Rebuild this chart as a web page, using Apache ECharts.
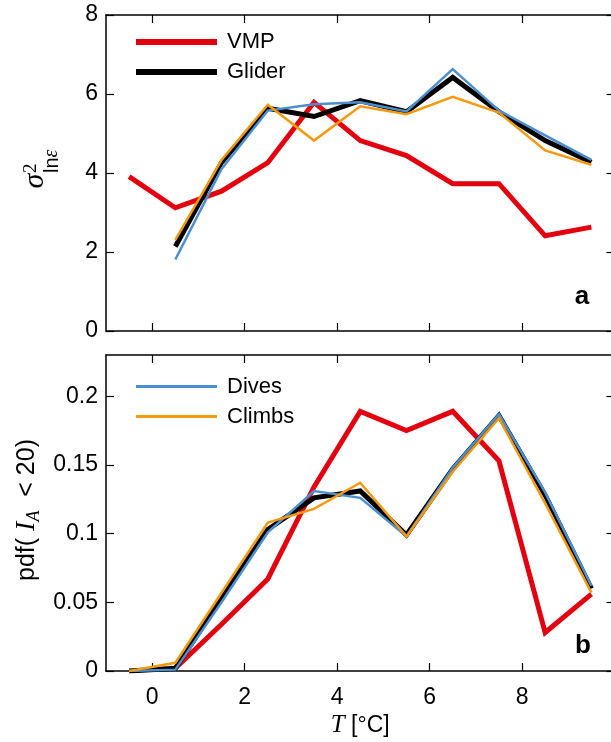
<!DOCTYPE html>
<html>
<head>
<meta charset="utf-8">
<script src="https://cdn.jsdelivr.net/npm/echarts@6/dist/echarts.min.js"></script>
<style>
html,body{margin:0;padding:0;background:#fff;}
#chart{width:611px;height:742px;}
</style>
</head>
<body>
<div id="chart"></div>
<script>
// ---- data ----
const temps = [-0.5, 0.5, 1.5, 2.5, 3.5, 4.5, 5.5, 6.5, 7.5, 8.5, 9.5];
// panel a: variance of ln(epsilon)
const vmpVar    = [3.91, 3.12, 3.54, 4.26, 5.79, 4.82, 4.44, 3.73, 3.73, 2.41, 2.63];
const gliderVar = [null, 2.14, 4.27, 5.64, 5.43, 5.83, 5.55, 6.42, 5.55, 4.82, 4.27];
const divesVar  = [null, 1.81, 4.10, 5.58, 5.74, 5.79, 5.56, 6.63, 5.58, 4.95, 4.33];
const climbsVar = [null, 2.31, 4.33, 5.73, 4.82, 5.69, 5.49, 5.93, 5.53, 4.57, 4.21];
// panel b: pdf(I_A < 20)
const vmpPdf    = [null, 0.002, 0.034, 0.067, 0.134, 0.189, 0.175, 0.189, 0.153, 0.028, 0.056];
const gliderPdf = [0, 0.002, 0.053, 0.103, 0.126, 0.131, 0.099, 0.147, 0.186, 0.128, 0.060];
const divesPdf  = [0, 0.001, 0.050, 0.101, 0.131, 0.126, 0.098, 0.148, 0.187, 0.130, 0.062];
const climbsPdf = [0, 0.006, 0.057, 0.108, 0.118, 0.137, 0.098, 0.145, 0.184, 0.122, 0.057];
// ticks
const xTicks = [0, 2, 4, 6, 8, 10];
const xTickLabels = [0, 2, 4, 6, 8];
const yTicksA = [0, 2, 4, 6, 8];
const yTicksB = [0, 0.05, 0.1, 0.15, 0.2];

const names = ['VMP', 'Glider', 'Dives', 'Climbs'];
const colors = ['#e3000f', '#000000', '#4a8fd0', '#f59a10'];
const widths = [5, 5, 2.5, 2.5];

const SANS = '"Liberation Sans", Arial, sans-serif';
const SERIF = '"Liberation Serif", "DejaVu Serif", serif';

function pairs(arr) {
  const out = [];
  temps.forEach((t, i) => { if (arr[i] !== null) out.push([t, arr[i]]); });
  return out;
}

const chart = echarts.init(document.getElementById('chart'), null, {renderer: 'canvas'});

const axisLine = {show: true, onZero: false, lineStyle: {color: '#000', width: 1.5}};
const tickStyle = {lineStyle: {color: '#000', width: 1.2}};

function xAxisDef(gridIndex, position, showLabel) {
  return {
    type: 'value', gridIndex, position, min: -1, max: 10,
    axisLine,
    splitLine: {show: false},
    axisTick: Object.assign({show: true, inside: true, length: 8, customValues: xTicks}, tickStyle),
    axisLabel: showLabel ? {show: true, customValues: xTickLabels, margin: 15, fontSize: 23, fontFamily: SANS, color: '#000'} : {show: false}
  };
}
function yAxisDef(gridIndex, position, max, ticks, showLabel) {
  return {
    type: 'value', gridIndex, position, min: 0, max,
    axisLine,
    splitLine: {show: false},
    axisTick: Object.assign({show: true, inside: true, length: 8, customValues: ticks}, tickStyle),
    axisLabel: showLabel ? {show: true, customValues: ticks, margin: 8, fontSize: 23, fontFamily: SANS, color: '#000',
      formatter: v => String(+v.toFixed(2))} : {show: false}
  };
}

const xAxes = [
  xAxisDef(0, 'bottom', false),
  xAxisDef(0, 'top', false),
  Object.assign(xAxisDef(1, 'bottom', true), {
    name: '{i|T} [°C]', nameLocation: 'middle', nameGap: 42,
    nameTextStyle: {fontSize: 23, fontFamily: SANS, color: '#000',
      rich: {i: {fontFamily: SERIF, fontStyle: 'italic', fontSize: 25, color: '#000'}}}
  }),
  xAxisDef(1, 'top', false)
];
const yAxes = [
  yAxisDef(0, 'left', 8, yTicksA, true),
  yAxisDef(0, 'right', 8, yTicksA, false),
  yAxisDef(1, 'left', 0.23, yTicksB, true),
  yAxisDef(1, 'right', 0.23, yTicksB, false)
];

const varData = [vmpVar, gliderVar, divesVar, climbsVar];
const pdfData = [vmpPdf, gliderPdf, divesPdf, climbsPdf];
const series = [];
[varData, pdfData].forEach((set, g) => {
  set.forEach((arr, k) => {
    series.push({
      type: 'line', name: names[k],
      xAxisIndex: g * 2, yAxisIndex: g * 2,
      data: pairs(arr),
      symbol: 'none', showSymbol: false,
      color: colors[k],
      itemStyle: {color: colors[k]},
      lineStyle: {color: colors[k], width: widths[k], join: 'miter'},
      z: 2 + k,
      silent: true
    });
  });
});

const legendText = {fontSize: 22, fontFamily: SANS, color: '#000', lineHeight: 21, padding: [0, 0, 0, 5]};

chart.setOption({
  animation: false,
  backgroundColor: '#fff',
  grid: [
    {left: 106, top: 15, width: 508.5, height: 316, outerBoundsMode: 'none', containLabel: false},
    {left: 106, top: 355, width: 508.5, height: 316, outerBoundsMode: 'none', containLabel: false}
  ],
  xAxis: xAxes,
  yAxis: yAxes,
  legend: [
    {data: ['VMP', 'Glider'], orient: 'vertical', left: 136, top: 31, itemWidth: 81, itemHeight: 6,
     itemGap: 8, icon: 'rect', padding: 0, selectedMode: false, textStyle: legendText},
    {data: ['Dives', 'Climbs'], orient: 'vertical', left: 136, top: 375.5, itemWidth: 81, itemHeight: 3,
     itemGap: 8, icon: 'rect', padding: 0, selectedMode: false, textStyle: legendText}
  ],
  series,
  graphic: [
    {type: 'text', x: 582, y: 297, style: {text: 'a', font: 'bold 26px ' + SANS, fill: '#000', align: 'center', verticalAlign: 'middle'}},
    {type: 'text', x: 583, y: 646, style: {text: 'b', font: 'bold 26px ' + SANS, fill: '#000', align: 'center', verticalAlign: 'middle'}},
    {type: 'group', x: 40, y: 175, rotation: Math.PI / 2, children: [
      {type: 'text', x: -6, y: -5, style: {text: 'σ', font: 'italic 30px ' + SERIF, fill: '#000', align: 'center', verticalAlign: 'middle'}},
      {type: 'text', x: 2, y: -9, style: {text: '2', font: '19px ' + SERIF, fill: '#000', align: 'left', verticalAlign: 'middle'}},
      {type: 'text', x: 2, y: 12, style: {text: '{a|ln}{b|ε}', fill: '#000', align: 'left', verticalAlign: 'middle',
        rich: {a: {fontFamily: SANS, fontSize: 20, fill: '#000'}, b: {fontFamily: SERIF, fontStyle: 'italic', fontSize: 20, fill: '#000'}}}}
    ]},
    {type: 'text', x: 27, y: 510, rotation: Math.PI / 2, style: {
      text: 'pdf( {i|I}{s|A}  < 20)', fontFamily: SANS, fontSize: 25, lineHeight: 32, fill: '#000', align: 'center', verticalAlign: 'middle',
      rich: {
        i: {fontFamily: SERIF, fontStyle: 'italic', fontSize: 28, lineHeight: 32, fill: '#000'},
        s: {fontFamily: SERIF, fontStyle: 'italic', fontSize: 18, lineHeight: 18, verticalAlign: 'bottom', fill: '#000'}
      }
    }}
  ]
});
</script>
</body>
</html>
